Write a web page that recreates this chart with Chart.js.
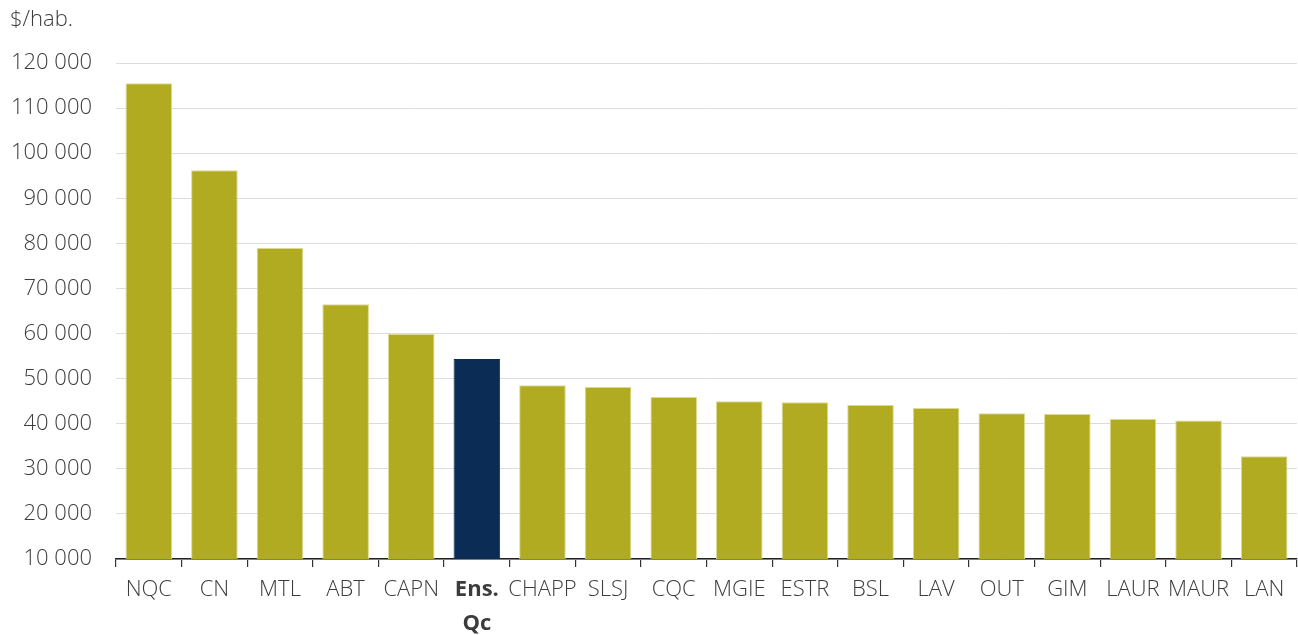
<!DOCTYPE html>
<html>
<head>
<meta charset="utf-8">
<script src="https://cdn.jsdelivr.net/npm/chart.js@4/dist/chart.umd.min.js"></script>
<style>
  body { margin: 0; background: #fff; }
  #wrap { position: relative; width: 1298px; height: 635px; }
  #unit { position: absolute; left: 10px; top: 2px; font: 300 22px "Open Sans", sans-serif; color: #3c3c3c; }
</style>
</head>
<body>
<div id="wrap">
  <div id="unit">$/hab.</div>
  <canvas id="chart" width="1298" height="635"></canvas>
</div>
<script>
var regions = ["NQC", "CN", "MTL", "ABT", "CAPN", ["Ens.", "Qc"], "CHAPP", "SLSJ", "CQC", "MGIE", "ESTR", "BSL", "LAV", "OUT", "GIM", "LAUR", "MAUR", "LAN"];
var values = [115500, 96200, 78950, 66500, 59900, 54350, 48550, 48150, 45950, 45000, 44750, 44150, 43500, 42300, 42150, 41050, 40700, 32800];
var highlight = 5;
var yTicks = { min: 10000, max: 120000, step: 10000 };

var gold = "#b0ab21";
var navy = "#0a2c55";
var textColor = "#3c3c3c";

var fmt = (v) => v.toString().replace(/\B(?=(\d{3})+(?!\d))/g, " ");

var ctx = document.getElementById("chart").getContext("2d");
var chart = new Chart(ctx, {
  type: "bar",
  data: {
    labels: regions,
    datasets: [{
      data: values,
      backgroundColor: values.map((v, i) => i == highlight ? navy : gold),
      borderColor: values.map((v, i) => i == highlight ? navy : "#dcd98f"),
      borderWidth: 1,
      barPercentage: 0.71,
      categoryPercentage: 1
    }]
  },
  options: {
    responsive: false,
    animation: false,
    layout: { padding: { top: 63, right: 1, left: 0, bottom: 0 } },
    plugins: { legend: { display: false }, tooltip: { enabled: false } },
    scales: {
      x: {
        grid: { drawOnChartArea: false, drawTicks: true, tickLength: 8, color: "#333", lineWidth: 1.2 },
        border: { color: "#222", width: 1.5 },
        ticks: {
          color: textColor,
          padding: 6,
          maxRotation: 0,
          autoSkip: false,
          font: (c) => c.index == highlight
            ? { family: "'Open Sans'", size: 22, weight: "bold", lineHeight: 1.55 }
            : { family: "'Open Sans'", size: 22, weight: 300, lineHeight: 1.55 }
        },
        afterFit: (s) => { s.height = 76; }
      },
      y: {
        min: yTicks.min,
        max: yTicks.max,
        grid: { color: "#dcdcdc", lineWidth: 1, drawTicks: false },
        border: { display: false },
        ticks: {
          stepSize: yTicks.step,
          color: textColor,
          padding: 24,
          font: { family: "'Open Sans'", size: 22, weight: 300 },
          callback: (v) => fmt(v)
        },
        afterFit: (s) => { s.width = 116; }
      }
    }
  }
});
</script>
</body>
</html>
